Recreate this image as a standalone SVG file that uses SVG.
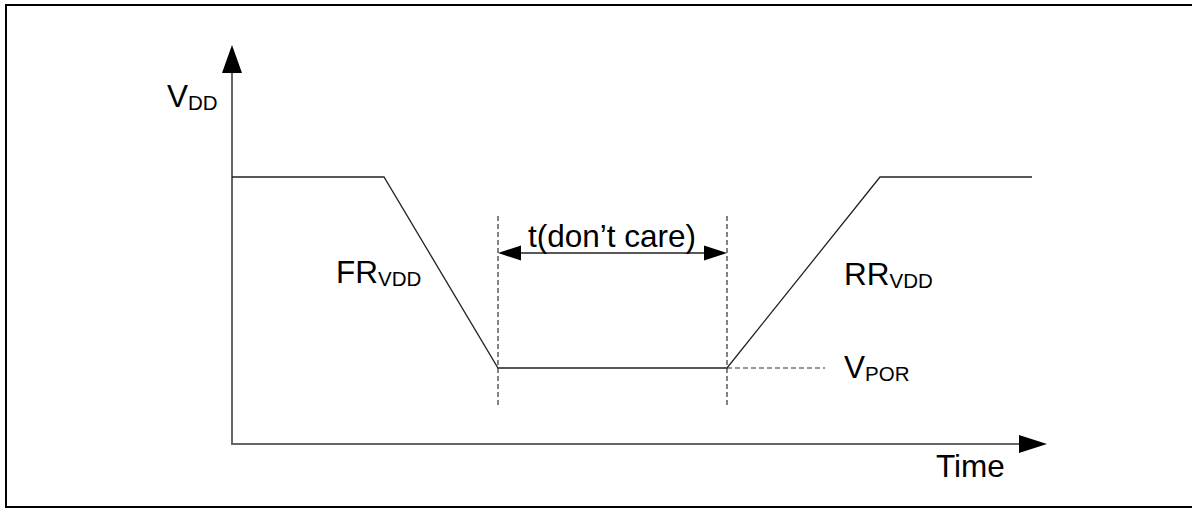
<svg xmlns="http://www.w3.org/2000/svg" width="1192" height="508" viewBox="0 0 1192 508">
<style>
.t{font-family:"Liberation Sans",Arial,sans-serif;font-size:31.5px;fill:#000}
.s{font-size:20.5px}
.ax{stroke:#666;stroke-width:2;fill:none}
.w{stroke:#222;stroke-width:1.3;fill:none}
.d{stroke:#333;stroke-width:1.2;fill:none;stroke-dasharray:5,3}
.hd{fill:#000;stroke:none}
</style>
<rect width="1192" height="508" fill="#fff"/>
<path d="M1192,5 H6 V507 H1192" fill="none" stroke="#000" stroke-width="2"/>
<g id="connectors">
<g id="y-axis">
<line class="ax" x1="232" y1="444" x2="232" y2="72"/>
<polygon class="hd" points="232,45 222,73 242,73"/>
</g>
<g id="x-axis">
<line class="ax" x1="231" y1="444" x2="1020" y2="444"/>
<polygon class="hd" points="1047,444 1019,435 1019,453"/>
</g>
<polyline id="vdd-waveform" class="w" points="232,177 384,177 498,368 727,368 880,177 1032,177"/>
<g id="guides">
<line class="d" x1="498" y1="216" x2="498" y2="408"/>
<line class="d" x1="727" y1="216" x2="727" y2="408"/>
<line class="d" x1="727" y1="368" x2="825" y2="368"/>
</g>
<g id="t-dont-care-arrow">
<line class="w" x1="518" y1="253" x2="707" y2="253"/>
<polygon class="hd" points="498,253 521,245.5 521,260.5"/>
<polygon class="hd" points="727,253 704,245.5 704,260.5"/>
</g>
</g>
<g id="label-vdd"><text class="t" x="167" y="107">V<tspan class="s" dy="3">DD</tspan></text></g>
<g id="label-frvdd"><text class="t" x="336" y="283">FR<tspan class="s" dy="3">VDD</tspan></text></g>
<g id="label-rrvdd"><text class="t" x="844" y="285">RR<tspan class="s" dy="3">VDD</tspan></text></g>
<g id="label-vpor"><text class="t" x="844" y="378">V<tspan class="s" dy="3">POR</tspan></text></g>
<g id="label-t"><text class="t" x="528" y="247">t(don’t care)</text></g>
<g id="label-time"><text class="t" x="936" y="477">Time</text></g>
</svg>
